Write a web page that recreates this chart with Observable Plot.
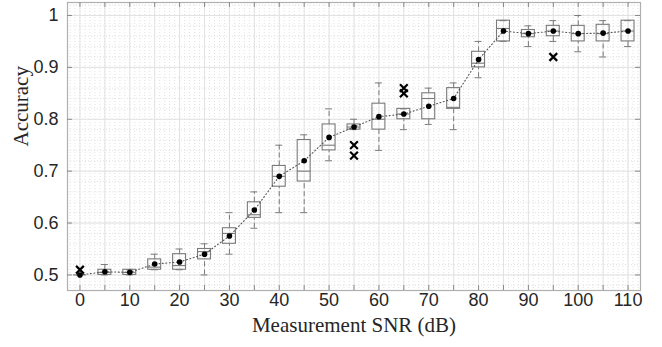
<!DOCTYPE html>
<html>
<head>
<meta charset="utf-8">
<script src="https://cdn.jsdelivr.net/npm/d3@7"></script>
<script src="https://cdn.jsdelivr.net/npm/@observablehq/plot@0.6"></script>
<style>
  html, body { margin: 0; padding: 0; background: #fff; }
</style>
</head>
<body>
<div id="chart"></div>
<script>
// SNR positions (dB)
const snr = [0, 5, 10, 15, 20, 25, 30, 35, 40, 45, 50, 55, 60, 65, 70, 75, 80, 85, 90, 95, 100, 105, 110];
// Box-plot statistics per SNR
const whiskerLo = [0.50, 0.50, 0.50, 0.51, 0.51, 0.50, 0.54, 0.59, 0.62, 0.62, 0.72, 0.78, 0.74, 0.78, 0.79, 0.78, 0.88, 0.95, 0.94, 0.95, 0.93, 0.92, 0.94];
const q1        = [0.50, 0.50, 0.50, 0.51, 0.51, 0.53, 0.56, 0.61, 0.67, 0.68, 0.74, 0.78, 0.78, 0.80, 0.80, 0.82, 0.90, 0.95, 0.958, 0.96, 0.95, 0.95, 0.95];
const median    = [0.50, 0.505, 0.505, 0.515, 0.518, 0.545, 0.58, 0.616, 0.69, 0.70, 0.75, 0.785, 0.80, 0.81, 0.84, 0.823, 0.908, 0.975, 0.965, 0.97, 0.965, 0.965, 0.97];
const q3        = [0.50, 0.51, 0.51, 0.53, 0.54, 0.55, 0.59, 0.64, 0.71, 0.76, 0.79, 0.79, 0.83, 0.82, 0.85, 0.86, 0.93, 0.99, 0.972, 0.98, 0.98, 0.982, 0.99];
const whiskerHi = [0.50, 0.52, 0.51, 0.54, 0.55, 0.56, 0.62, 0.66, 0.75, 0.77, 0.82, 0.80, 0.87, 0.82, 0.86, 0.87, 0.95, 0.99, 0.98, 0.99, 1.00, 0.99, 0.99];
const meanAcc   = [0.50, 0.506, 0.505, 0.521, 0.525, 0.54, 0.575, 0.625, 0.69, 0.72, 0.765, 0.785, 0.805, 0.81, 0.825, 0.84, 0.915, 0.97, 0.965, 0.97, 0.965, 0.966, 0.97];
// Outliers
const outlierSnr = [0, 55, 55, 65, 65, 95];
const outlierAcc = [0.51, 0.75, 0.73, 0.86, 0.85, 0.92];
// Tick labels
const xTickLabels = [0, 10, 20, 30, 40, 50, 60, 70, 80, 90, 100, 110];
const xTicks = [0, 5, 10, 15, 20, 25, 30, 35, 40, 45, 50, 55, 60, 65, 70, 75, 80, 85, 90, 95, 100, 105, 110];
const yTicks = [0.5, 0.6, 0.7, 0.8, 0.9, 1.0];
const xMinor = d3.range(-2, 113, 1);
const yMinor = d3.range(24, 52, 1).map(i => i / 50);
const xTitle = "Measurement SNR (dB)";
const yTitle = "Accuracy";

const rows = snr.map((s, i) => ({snr: s, lo: whiskerLo[i], q1: q1[i], med: median[i], q3: q3[i], hi: whiskerHi[i], mean: meanAcc[i]}));
const outliers = outlierSnr.map((s, i) => ({snr: s, acc: outlierAcc[i]}));

const W = 662, H = 347, mL = 67, mR = 22, mT = 2, mB = 57;
const innerW = W - mL - mR, innerH = H - mT - mB;
const tickLen = 5;
const boxHalf = 1.3, capHalf = 0.7;
const gray = "#7a7a7a";

const chart = Plot.plot({
  width: W, height: H,
  marginLeft: mL, marginRight: mR, marginTop: mT, marginBottom: mB,
  x: {domain: [-2.5, 112.5]},
  y: {domain: [0.47, 1.025]},
  style: {fontFamily: "'Liberation Sans', Arial, sans-serif", fontSize: "18px", background: "#fff", color: "#262626"},
  marks: [
    // minor grid
    Plot.ruleX(xMinor, {x: d => d, stroke: "#dadada", strokeDasharray: "1,2", strokeWidth: 0.8}),
    Plot.ruleY(yMinor, {y: d => d, stroke: "#dadada", strokeDasharray: "1,2", strokeWidth: 0.8}),
    // major grid
    Plot.ruleX(xTicks, {x: d => d, stroke: "#e2e2e2", strokeWidth: 1}),
    Plot.ruleY(yTicks, {y: d => d, stroke: "#e2e2e2", strokeWidth: 1}),
    // frame
    Plot.frame({stroke: "#b0b0b0", strokeWidth: 1.2}),
    // inward ticks
    Plot.tickX(xTicks, {x: d => d, insetTop: innerH - tickLen, stroke: "#8a8a8a"}),
    Plot.tickX(xTicks, {x: d => d, insetBottom: innerH - tickLen, stroke: "#8a8a8a"}),
    Plot.tickY(yTicks, {y: d => d, insetRight: innerW - tickLen, stroke: "#8a8a8a"}),
    Plot.tickY(yTicks, {y: d => d, insetLeft: innerW - tickLen, stroke: "#8a8a8a"}),
    // axes labels
    Plot.axisX({ticks: xTickLabels, tickSize: 0, tickPadding: 3, label: null, fill: "#262626"}),
    Plot.axisY({ticks: yTicks, tickSize: 0, tickPadding: 9, label: null, tickFormat: d => String(+d.toFixed(1)), fill: "#262626"}),
    // whiskers
    Plot.ruleX(rows, {x: "snr", y1: "q3", y2: "hi", stroke: gray, strokeDasharray: "5,3"}),
    Plot.ruleX(rows, {x: "snr", y1: "lo", y2: "q1", stroke: gray, strokeDasharray: "5,3"}),
    Plot.ruleY(rows, {y: "hi", x1: d => d.snr - capHalf, x2: d => d.snr + capHalf, stroke: gray}),
    Plot.ruleY(rows, {y: "lo", x1: d => d.snr - capHalf, x2: d => d.snr + capHalf, stroke: gray}),
    // boxes
    Plot.rect(rows, {x1: d => d.snr - boxHalf, x2: d => d.snr + boxHalf, y1: "q1", y2: "q3", fill: "none", stroke: gray, strokeWidth: 1.1}),
    Plot.ruleY(rows, {y: "med", x1: d => d.snr - boxHalf, x2: d => d.snr + boxHalf, stroke: gray, strokeWidth: 1.1}),
    // mean line + dots
    Plot.line(rows, {x: "snr", y: "mean", stroke: "#555", strokeDasharray: "1,2.5", strokeWidth: 1.1}),
    Plot.dot(rows, {x: "snr", y: "mean", r: 2.8, fill: "#000", stroke: "none"}),
    // outliers
    Plot.dot(outliers, {x: "snr", y: "acc", symbol: "times", r: 3.6, stroke: "#000", strokeWidth: 2.2}),
    // axis titles
    Plot.text([xTitle], {frameAnchor: "bottom", dy: 41, fontSize: 21, fill: "#262626"}),
    Plot.text([yTitle], {frameAnchor: "left", rotate: -90, dx: -46, fontSize: 21, fill: "#262626"})
  ]
});
document.getElementById("chart").append(chart);
// serif family on axis titles
d3.select(chart).selectAll("text").filter(function () {
  const t = this.textContent;
  return t === xTitle || t === yTitle;
}).style("font-family", "'Liberation Serif', 'DejaVu Serif', serif");
</script>
</body>
</html>
